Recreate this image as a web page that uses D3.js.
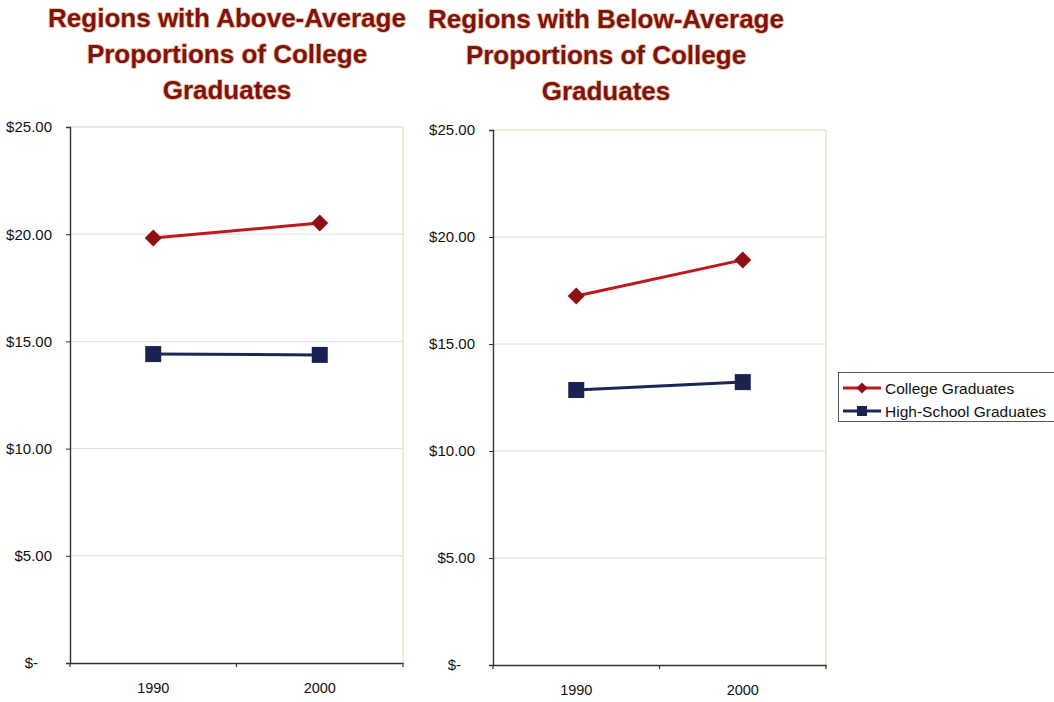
<!DOCTYPE html>
<html>
<head>
<meta charset="utf-8">
<script src="https://cdn.jsdelivr.net/npm/d3@7/dist/d3.min.js"></script>
<style>
  html, body { margin: 0; padding: 0; background: #fff; }
  svg { display: block; font-family: "Liberation Sans", Arial, Helvetica, sans-serif; }
</style>
</head>
<body>
<svg id="chart" width="1054" height="702"></svg>
<script>
// Hourly wages by education, 1990 vs 2000
const years = ["1990", "2000"];
const aboveCollege = [19.82, 20.52];
const aboveHighSchool = [14.41, 14.37];
const belowCollege = [17.24, 18.93];
const belowHighSchool = [12.85, 13.22];
const yTicks = [0, 5, 10, 15, 20, 25];
const seriesNames = ["College Graduates", "High-School Graduates"];
const aboveTitle = ["Regions with Above-Average", "Proportions of College", "Graduates"];
const belowTitle = ["Regions with Below-Average", "Proportions of College", "Graduates"];

const svg = d3.select("#chart");

const red = { line: "#c0161c", mark: "#8e0f14" };
const navy = { line: "#1c2656", mark: "#1b2150" };

function panel(cfg) {
  const g = svg.append("g");
  const x = d3.scaleBand().domain(years).range([cfg.left, cfg.right]).padding(0);
  const y = d3.scaleLinear().domain([0, 25]).range([cfg.bottom, cfg.top]);

  // gridlines
  g.append("g").selectAll("line").data(yTicks.filter(t => t > 0)).join("line")
    .attr("x1", cfg.left).attr("x2", cfg.right)
    .attr("y1", d => y(d)).attr("y2", d => y(d))
    .attr("stroke", d => d === 25 ? cfg.topColor : "#dcdcd8")
    .attr("stroke-width", 1);

  // right frame of plot area
  g.append("line")
    .attr("x1", cfg.right).attr("x2", cfg.right)
    .attr("y1", y(25)).attr("y2", y(0))
    .attr("stroke", "#d8d8b0").attr("stroke-width", 1);

  // y axis
  const yAxis = g.append("g")
    .attr("transform", `translate(${cfg.left},0)`)
    .call(d3.axisLeft(y).tickValues(yTicks).tickSize(4).tickPadding(14)
      .tickFormat(d => d === 0 ? "$-" : "$" + d.toFixed(2)));
  yAxis.select(".domain").attr("stroke", "#333").attr("stroke-width", 1.4);
  yAxis.selectAll(".tick line").attr("stroke", "#333");
  yAxis.selectAll(".tick text")
    .attr("fill", "#111").style("font-size", "15px")
    .attr("dx", d => d === 0 ? -14 : 0);

  // x axis with ticks between categories
  const xAxis = g.append("g")
    .attr("transform", `translate(0,${cfg.bottom})`)
    .call(d3.axisBottom(x).tickSize(0).tickPadding(20));
  xAxis.select(".domain").attr("stroke", "#333").attr("stroke-width", 1.4);
  xAxis.selectAll(".tick text").attr("fill", "#111").style("font-size", "14.5px");
  const bounds = [cfg.left, ...years.map(yr => x(yr) + x.bandwidth())];
  g.append("g").selectAll("line").data(bounds).join("line")
    .attr("x1", d => d).attr("x2", d => d)
    .attr("y1", cfg.bottom).attr("y2", cfg.bottom + 4)
    .attr("stroke", "#333").attr("stroke-width", 1.2);

  const cx = yr => x(yr) + x.bandwidth() / 2;
  const line = d3.line().x((d, i) => cx(years[i])).y(d => y(d));

  // high-school series: squares
  g.append("path").datum(cfg.hs).attr("d", line)
    .attr("fill", "none").attr("stroke", navy.line).attr("stroke-width", 3);
  g.append("g").selectAll("rect").data(cfg.hs).join("rect")
    .attr("x", (d, i) => cx(years[i]) - 8).attr("y", d => y(d) - 8)
    .attr("width", 16).attr("height", 16)
    .attr("fill", navy.mark);

  // college series: diamonds
  g.append("path").datum(cfg.college).attr("d", line)
    .attr("fill", "none").attr("stroke", red.line).attr("stroke-width", 3);
  g.append("g").selectAll("path.dia").data(cfg.college).join("path")
    .attr("class", "dia")
    .attr("d", (d, i) => {
      const px = cx(years[i]), py = y(d), r = 8.5;
      return `M${px},${py - r}L${px + r},${py}L${px},${py + r}L${px - r},${py}Z`;
    })
    .attr("fill", red.mark);

  // title
  g.append("text")
    .attr("text-anchor", "middle")
    .attr("font-weight", "bold")
    .style("font-size", "26px")
    .attr("fill", "#7e1212")
    .attr("stroke", "#e8a868").attr("stroke-width", 1.8).attr("stroke-opacity", 0.6)
    .attr("paint-order", "stroke")
    .selectAll("tspan").data(cfg.title).join("tspan")
    .attr("x", cfg.titleX)
    .attr("y", (d, i) => cfg.titleY + i * 36)
    .text(d => d);
}

panel({
  left: 70, right: 403, top: 127, bottom: 663,
  college: aboveCollege, hs: aboveHighSchool,
  title: aboveTitle, titleX: 227, titleY: 27, topColor: "#d2d2d2"
});

panel({
  left: 493, right: 826, top: 130, bottom: 665,
  college: belowCollege, hs: belowHighSchool,
  title: belowTitle, titleX: 606, titleY: 28, topColor: "#dcdca0"
});

// legend
const legend = svg.append("g");
legend.append("rect")
  .attr("x", 838.5).attr("y", 372.5).attr("width", 230).attr("height", 49)
  .attr("fill", "#fff").attr("stroke", "#555").attr("stroke-width", 1);
const legendItems = [
  { name: seriesNames[0], c: red, shape: "diamond" },
  { name: seriesNames[1], c: navy, shape: "square" }
];
const li = legend.selectAll("g.item").data(legendItems).join("g")
  .attr("class", "item")
  .attr("transform", (d, i) => `translate(0,${388 + i * 23})`);
li.append("line").attr("x1", 843).attr("x2", 881).attr("y1", 0).attr("y2", 0)
  .attr("stroke", d => d.c.line).attr("stroke-width", 3);
li.append("path")
  .attr("d", d => d.shape === "diamond"
    ? "M862,-5.5L867.5,0L862,5.5L856.5,0Z"
    : "M857,-5H867V5H857Z")
  .attr("fill", d => d.c.mark);
li.append("text").attr("x", 885).attr("y", 5.5)
  .style("font-size", "15.5px").attr("fill", "#111")
  .text(d => d.name);
</script>
</body>
</html>
